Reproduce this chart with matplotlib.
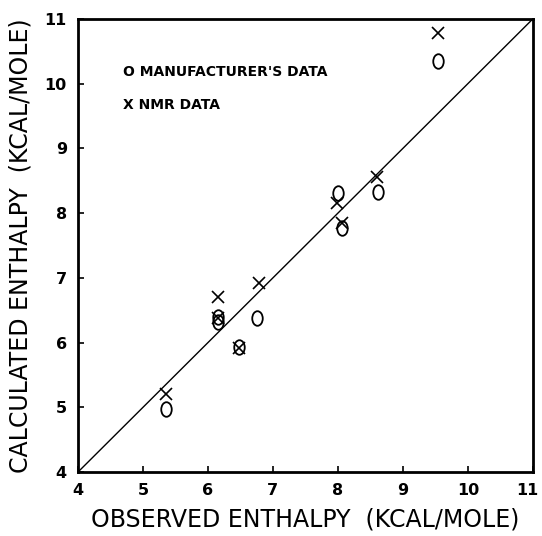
import matplotlib
matplotlib.use("Agg")
import matplotlib.pyplot as plt
import numpy as np
from matplotlib.path import Path
from matplotlib.transforms import Affine2D, ScaledTranslation

# Data (kcal/mole)
manuf_obs = [5.36, 6.16, 6.16, 6.48, 6.76, 8.00, 8.06, 8.61, 9.54]
manuf_calc = [4.98, 6.40, 6.32, 5.93, 6.38, 8.31, 7.77, 8.33, 10.35]
nmr_obs = [5.36, 6.16, 6.16, 6.48, 6.79, 7.98, 8.06, 8.60, 9.54]
nmr_calc = [5.21, 6.71, 6.38, 5.91, 6.92, 8.15, 7.85, 8.56, 10.78]
ticks = [4, 5, 6, 7, 8, 9, 10, 11]
tick_labels = ["4", "5", "6", "7", "8", "9", "10", "11"]

fig = plt.figure(figsize=(5.42, 5.36), dpi=100)
ax = fig.add_axes([0.144, 0.1194, 0.839, 0.8452])

ax.plot([4, 11], [4, 11], color="black", lw=1.0)

# "O" marker: tall rounded shape
o_marker = Path.unit_circle().transformed(Affine2D().scale(0.72, 1.0))
ax.plot(manuf_obs, manuf_calc, linestyle="none", marker=o_marker,
        markersize=10.5, markerfacecolor="none", markeredgecolor="black",
        markeredgewidth=1.3)
ax.plot(nmr_obs, nmr_calc, linestyle="none", marker="x", markersize=8.5,
        markeredgecolor="black", markeredgewidth=1.2)

ax.set_xlim(4, 11)
ax.set_ylim(4, 11)
ax.set_xticks(ticks)
ax.set_yticks(ticks)
ax.set_xticklabels(tick_labels, fontsize=11.5, fontweight="bold")
ax.set_yticklabels(tick_labels, fontsize=11.5, fontweight="bold")
ax.tick_params(direction="in", length=4, width=1.2, top=False, right=False, pad=8)
for s in ax.spines.values():
    s.set_linewidth(2.0)

# nudge the last x label so it stays inside the figure
last = ax.get_xticklabels()[-1]
last.set_transform(last.get_transform() + ScaledTranslation(-5 / 100, 0, fig.dpi_scale_trans))

ax.set_xlabel("OBSERVED ENTHALPY  (KCAL/MOLE)", fontsize=17, labelpad=7)
ax.set_ylabel("CALCULATED ENTHALPY  (KCAL/MOLE)", fontsize=17, labelpad=9)

ax.text(0.099, 0.883, "O MANUFACTURER'S DATA", transform=ax.transAxes,
        fontsize=10, fontweight="bold", va="center", ha="left")
ax.text(0.099, 0.810, "X NMR DATA", transform=ax.transAxes,
        fontsize=10, fontweight="bold", va="center", ha="left")

fig.savefig("out.png", dpi=100)
